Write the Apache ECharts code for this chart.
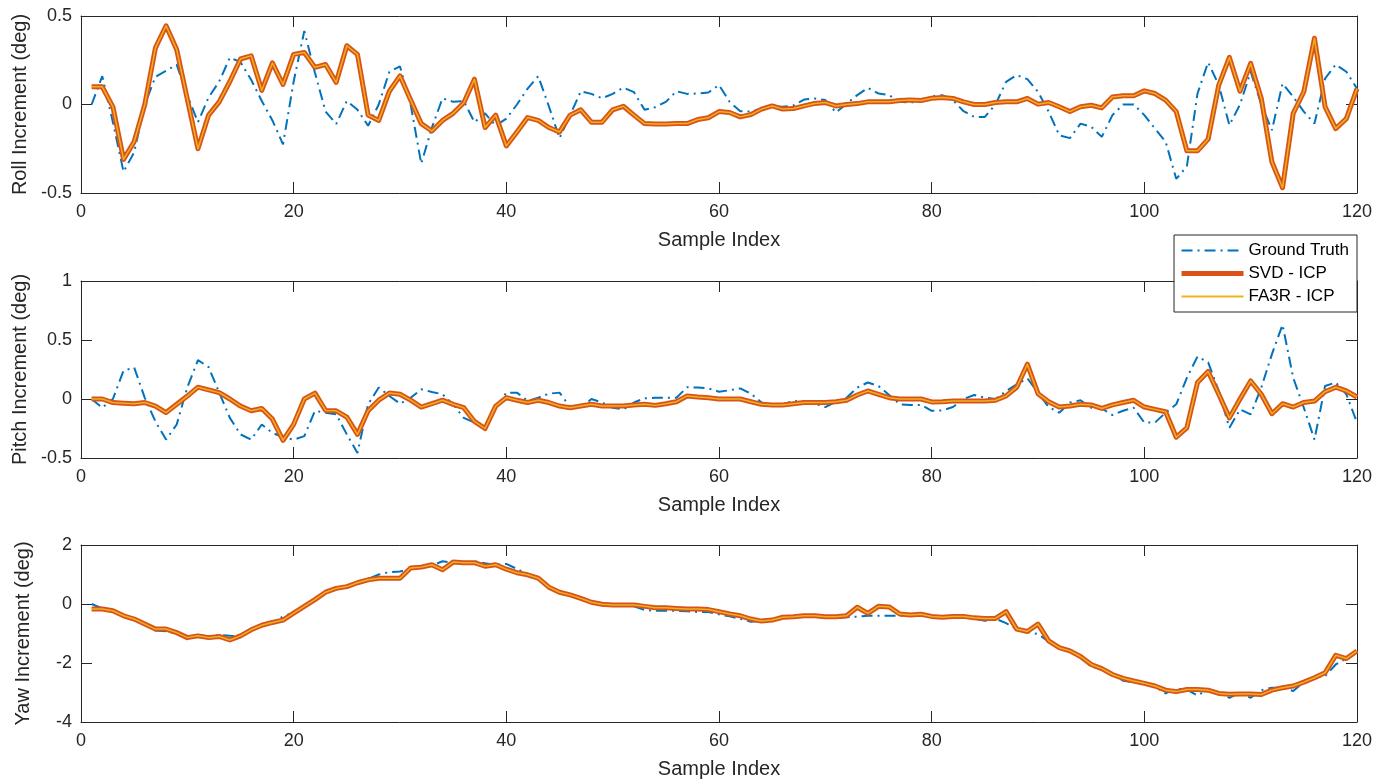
<!DOCTYPE html>
<html>
<head>
<meta charset="utf-8">
<script src="https://cdn.jsdelivr.net/npm/echarts@6/dist/echarts.min.js"></script>
<style>
html,body{margin:0;padding:0;background:#fff;}
#chart{width:1387px;height:780px;}
</style>
</head>
<body>
<div id="chart"></div>
<script>
// ---- Data ----
const sampleIndex = [1,2,3,4,5,6,7,8,9,10,11,12,13,14,15,16,17,18,19,20,21,22,23,24,25,26,27,28,29,30,31,32,33,34,35,36,37,38,39,40,41,42,43,44,45,46,47,48,49,50,51,52,53,54,55,56,57,58,59,60,61,62,63,64,65,66,67,68,69,70,71,72,73,74,75,76,77,78,79,80,81,82,83,84,85,86,87,88,89,90,91,92,93,94,95,96,97,98,99,100,101,102,103,104,105,106,107,108,109,110,111,112,113,114,115,116,117,118,119,120];

const xTicks = [0,20,40,60,80,100,120];
const rollTicks = [-0.5,0,0.5];
const pitchTicks = [-0.5,0,0.5,1];
const yawTicks = [-4,-2,0,2];

const seriesNames = ['Ground Truth','SVD - ICP','FA3R - ICP'];

const rollGT = [0,0.16,-0.1,-0.38,-0.27,0,0.157,0.19,0.225,0.05,-0.1,0.04,0.13,0.265,0.24,0.14,0.02,-0.09,-0.225,0.13,0.415,0.18,-0.04,-0.11,0.02,-0.03,-0.12,0,0.185,0.215,0,-0.335,-0.13,0.035,0.015,0.02,-0.1,-0.05,-0.12,-0.08,
0,0.09,0.16,-0.01,-0.19,-0.06,0.075,0.06,0.035,0.06,0.095,0.07,-0.03,-0.015,0.015,0.075,0.06,0.062,0.068,0.11,0.015,-0.038,-0.04,-0.023,-0.01,-0.013,-0.005,0.028,0.034,0.025,-0.045,0.005,0.053,0.094,0.062,0.053,0.015,0.012,0.015,0.045,
0.053,0.025,-0.038,-0.07,-0.07,0,0.128,0.166,0.143,0.072,-0.04,-0.174,-0.19,-0.108,-0.126,-0.183,-0.06,0,0,-0.06,-0.136,-0.21,-0.42,-0.35,0.062,0.238,0.11,-0.117,0,0.185,0,-0.145,0.119,0.043,-0.04,-0.108,0.147,0.226,0.185,0.09];

const rollSVD = [0.1,0.1,-0.013,-0.31,-0.21,0,0.32,0.445,0.31,0.03,-0.25,-0.06,0.015,0.13,0.257,0.275,0.08,0.235,0.113,0.283,0.294,0.21,0.226,0.125,0.332,0.283,-0.06,-0.09,0.075,0.162,0.025,-0.108,-0.15,-0.09,-0.05,0.01,0.143,-0.13,-0.06,-0.234,
-0.155,-0.074,-0.09,-0.13,-0.155,-0.06,-0.03,-0.1,-0.1,-0.03,-0.01,-0.06,-0.108,-0.11,-0.11,-0.108,-0.108,-0.085,-0.075,-0.04,-0.045,-0.07,-0.057,-0.026,-0.008,-0.026,-0.023,-0.008,0.006,0.011,-0.008,0,0.005,0.015,0.015,0.015,0.023,0.025,0.023,0.035,
0.04,0.034,0.015,0,0,0.011,0.015,0.015,0.034,0.002,0.011,-0.013,-0.04,-0.013,-0.004,-0.019,0.043,0.049,0.049,0.077,0.062,0.025,-0.04,-0.262,-0.262,-0.196,0.11,0.266,0.075,0.232,0.034,-0.325,-0.47,-0.05,0.072,0.374,-0.013,-0.136,-0.08,0.09];

const rollFA3R = [0.1,0.1,-0.013,-0.31,-0.21,0,0.32,0.445,0.31,0.03,-0.25,-0.06,0.015,0.13,0.257,0.275,0.08,0.235,0.113,0.283,0.294,0.21,0.226,0.125,0.332,0.283,-0.06,-0.09,0.075,0.162,0.025,-0.108,-0.15,-0.09,-0.05,0.01,0.143,-0.13,-0.06,-0.234,
-0.155,-0.074,-0.09,-0.13,-0.155,-0.06,-0.03,-0.1,-0.1,-0.03,-0.01,-0.06,-0.108,-0.11,-0.11,-0.108,-0.108,-0.085,-0.075,-0.04,-0.045,-0.07,-0.057,-0.026,-0.008,-0.026,-0.023,-0.008,0.006,0.011,-0.008,0,0.005,0.015,0.015,0.015,0.023,0.025,0.023,0.035,
0.04,0.034,0.015,0,0,0.011,0.015,0.015,0.034,0.002,0.011,-0.013,-0.04,-0.013,-0.004,-0.019,0.043,0.049,0.049,0.077,0.062,0.025,-0.04,-0.262,-0.262,-0.196,0.11,0.266,0.075,0.232,0.034,-0.325,-0.47,-0.05,0.072,0.374,-0.013,-0.136,-0.08,0.09];

const pitchGT = [0,-0.074,0,0.24,0.267,0.01,-0.19,-0.344,-0.216,0.1,0.33,0.27,0.054,-0.16,-0.3,-0.344,-0.216,-0.287,-0.324,-0.344,-0.315,-0.1,-0.116,-0.13,-0.3,-0.457,-0.045,0.097,0.026,-0.04,0.011,0.082,0.06,0.04,-0.045,-0.16,-0.2,-0.24,-0.074,0.054,
0.054,-0.017,0.011,0.045,0.054,-0.068,-0.074,0,-0.03,-0.074,-0.088,-0.03,0.006,0.011,0.011,0.011,0.1,0.097,0.09,0.062,0.074,0.09,0.045,-0.03,-0.06,-0.045,-0.017,-0.023,-0.04,-0.068,-0.023,0.011,0.097,0.14,0.11,0.034,-0.045,-0.05,-0.05,-0.1,
-0.097,-0.068,0,0.034,0.011,0,0.068,0.125,0.176,0.054,-0.068,-0.116,-0.03,-0.011,-0.074,-0.08,-0.136,-0.1,-0.074,-0.2,-0.2,-0.116,-0.045,0.18,0.36,0.31,0.068,-0.244,-0.088,-0.13,0.097,0.38,0.63,0.18,-0.074,-0.344,0.11,0.14,0.04,-0.2];

const pitchSVD = [0,0,-0.03,-0.035,-0.04,-0.03,-0.06,-0.115,-0.045,0.025,0.1,0.077,0.054,0,-0.06,-0.1,-0.08,-0.17,-0.35,-0.215,0,0.05,-0.097,-0.1,-0.153,-0.3,-0.1,-0.01,0.05,0.04,-0.01,-0.068,-0.04,-0.01,-0.045,-0.074,-0.19,-0.25,-0.06,0.012,
-0.011,-0.03,-0.011,-0.03,-0.06,-0.074,-0.06,-0.045,-0.06,-0.06,-0.06,-0.05,-0.045,-0.054,-0.04,-0.023,0.026,0.017,0.011,0,0,0,-0.023,-0.045,-0.05,-0.05,-0.04,-0.03,-0.03,-0.03,-0.023,-0.011,0.034,0.068,0.04,0.011,0,0,0,-0.025,
-0.023,-0.017,-0.017,-0.017,-0.017,-0.011,0.026,0.1,0.295,0.045,-0.023,-0.068,-0.06,-0.045,-0.05,-0.08,-0.05,-0.03,-0.011,-0.068,-0.088,-0.108,-0.324,-0.244,0.14,0.233,0.04,-0.16,0,0.153,0.04,-0.125,-0.04,-0.068,-0.03,-0.017,0.062,0.1,0.068,0.017];

const pitchFA3R = [0,0,-0.03,-0.035,-0.04,-0.03,-0.06,-0.115,-0.045,0.025,0.1,0.077,0.054,0,-0.06,-0.1,-0.08,-0.17,-0.35,-0.215,0,0.05,-0.097,-0.1,-0.153,-0.3,-0.1,-0.01,0.05,0.04,-0.01,-0.068,-0.04,-0.01,-0.045,-0.074,-0.19,-0.25,-0.06,0.012,
-0.011,-0.03,-0.011,-0.03,-0.06,-0.074,-0.06,-0.045,-0.06,-0.06,-0.06,-0.05,-0.045,-0.054,-0.04,-0.023,0.026,0.017,0.011,0,0,0,-0.023,-0.045,-0.05,-0.05,-0.04,-0.03,-0.03,-0.03,-0.023,-0.011,0.034,0.068,0.04,0.011,0,0,0,-0.025,
-0.023,-0.017,-0.017,-0.017,-0.017,-0.011,0.026,0.1,0.295,0.045,-0.023,-0.068,-0.06,-0.045,-0.05,-0.08,-0.05,-0.03,-0.011,-0.068,-0.088,-0.108,-0.324,-0.244,0.14,0.233,0.04,-0.16,0,0.153,0.04,-0.125,-0.04,-0.068,-0.03,-0.017,0.062,0.1,0.068,0.017];

const yawGT = [0,-0.15,-0.23,-0.4,-0.55,-0.7,-0.9,-0.92,-1.0,-1.1,-1.05,-1.1,-1.05,-1.08,-1.1,-0.9,-0.75,-0.65,-0.42,-0.3,-0.1,0.15,0.4,0.55,0.6,0.75,0.85,1.0,1.08,1.1,1.2,1.25,1.3,1.45,1.4,1.38,1.45,1.38,1.33,1.36,
1.19,1.0,0.88,0.6,0.42,0.3,0.18,0.05,-0.02,-0.05,-0.05,-0.08,-0.2,-0.23,-0.23,-0.23,-0.25,-0.27,-0.27,-0.35,-0.42,-0.5,-0.6,-0.58,-0.52,-0.47,-0.45,-0.43,-0.43,-0.45,-0.47,-0.45,-0.43,-0.4,-0.4,-0.4,-0.4,-0.4,-0.38,-0.42,
-0.45,-0.42,-0.43,-0.5,-0.57,-0.5,-0.65,-0.85,-0.95,-1.02,-1.28,-1.48,-1.6,-1.8,-2.12,-2.2,-2.4,-2.6,-2.65,-2.7,-2.8,-3.03,-2.87,-2.9,-3.1,-2.9,-3.0,-3.18,-3.0,-3.18,-2.92,-2.84,-2.84,-2.95,-2.65,-2.5,-2.44,-2.05,-1.85,-1.6];

const yawSVD = [-0.17,-0.17,-0.23,-0.4,-0.51,-0.68,-0.85,-0.85,-0.97,-1.14,-1.08,-1.14,-1.1,-1.22,-1.08,-0.875,-0.72,-0.625,-0.545,-0.31,-0.08,0.15,0.4,0.53,0.59,0.72,0.82,0.875,0.875,0.875,1.22,1.25,1.33,1.16,1.42,1.4,1.4,1.28,1.33,1.18,
1.06,0.99,0.875,0.57,0.4,0.31,0.19,0.06,-0.01,-0.03,-0.03,-0.03,-0.08,-0.125,-0.125,-0.15,-0.17,-0.17,-0.19,-0.26,-0.34,-0.4,-0.51,-0.58,-0.545,-0.45,-0.43,-0.4,-0.4,-0.43,-0.43,-0.4,-0.11,-0.32,-0.08,-0.1,-0.34,-0.375,-0.35,-0.42,
-0.45,-0.42,-0.42,-0.47,-0.49,-0.49,-0.26,-0.85,-0.93,-0.68,-1.25,-1.48,-1.59,-1.78,-2.05,-2.19,-2.39,-2.52,-2.61,-2.69,-2.78,-2.92,-2.97,-2.9,-2.9,-2.92,-3.03,-3.06,-3.05,-3.05,-3.07,-2.92,-2.84,-2.78,-2.65,-2.5,-2.33,-1.74,-1.85,-1.59];

const yawFA3R = [-0.17,-0.17,-0.23,-0.4,-0.51,-0.68,-0.85,-0.85,-0.97,-1.14,-1.08,-1.14,-1.1,-1.22,-1.08,-0.875,-0.72,-0.625,-0.545,-0.31,-0.08,0.15,0.4,0.53,0.59,0.72,0.82,0.875,0.875,0.875,1.22,1.25,1.33,1.16,1.42,1.4,1.4,1.28,1.33,1.18,
1.06,0.99,0.875,0.57,0.4,0.31,0.19,0.06,-0.01,-0.03,-0.03,-0.03,-0.08,-0.125,-0.125,-0.15,-0.17,-0.17,-0.19,-0.26,-0.34,-0.4,-0.51,-0.58,-0.545,-0.45,-0.43,-0.4,-0.4,-0.43,-0.43,-0.4,-0.11,-0.32,-0.08,-0.1,-0.34,-0.375,-0.35,-0.42,
-0.45,-0.42,-0.42,-0.47,-0.49,-0.49,-0.26,-0.85,-0.93,-0.68,-1.25,-1.48,-1.59,-1.78,-2.05,-2.19,-2.39,-2.52,-2.61,-2.69,-2.78,-2.92,-2.97,-2.9,-2.9,-2.92,-3.03,-3.06,-3.05,-3.05,-3.07,-2.92,-2.84,-2.78,-2.65,-2.5,-2.33,-1.74,-1.85,-1.59];

// ---- Chart ----
const FONT = "'Liberation Sans', Arial, Helvetica, sans-serif";
const INK = '#262626';
const C_GT = '#0072BD', C_SVD = '#D95319', C_FA3R = '#EDB120';

const panels = [
  {name:'Roll Increment (deg)', ticks: rollTicks, gt: rollGT, svd: rollSVD, fa: rollFA3R, top: 16},
  {name:'Pitch Increment (deg)', ticks: pitchTicks, gt: pitchGT, svd: pitchSVD, fa: pitchFA3R, top: 281},
  {name:'Yaw Increment (deg)', ticks: yawTicks, gt: yawGT, svd: yawSVD, fa: yawFA3R, top: 545}
];

const pairs = arr => sampleIndex.map((x, i) => [x, arr[i]]);
const tickStyle = {show:true, inside:true, length:11, lineStyle:{color:INK, width:1}};
const lineStyleAxis = {show:true, onZero:false, lineStyle:{color:INK, width:1}};

const grid = [], xAxis = [], yAxis = [], series = [];
panels.forEach((p, k) => {
  grid.push({left:81, right:30, top:p.top, height:177, containLabel:false});
  const xmin = xTicks[0], xmax = xTicks[xTicks.length-1], xint = xTicks[1]-xTicks[0];
  const ymin = p.ticks[0], ymax = p.ticks[p.ticks.length-1], yint = p.ticks[1]-p.ticks[0];
  xAxis.push({
    type:'value', gridIndex:k, position:'bottom', min:xmin, max:xmax, interval:xint,
    name:'Sample Index', nameLocation:'middle', nameGap:37,
    nameTextStyle:{fontFamily:FONT, fontSize:20, color:INK},
    axisLine:lineStyleAxis, axisTick:tickStyle, splitLine:{show:false},
    axisLabel:{fontFamily:FONT, fontSize:18, color:INK, margin:10}
  });
  xAxis.push({
    type:'value', gridIndex:k, position:'top', min:xmin, max:xmax, interval:xint,
    axisLine:lineStyleAxis, axisTick:tickStyle, splitLine:{show:false}, axisLabel:{show:false}
  });
  yAxis.push({
    type:'value', gridIndex:k, position:'left', min:ymin, max:ymax, interval:yint,
    name:p.name, nameLocation:'middle', nameGap:48,
    nameTextStyle:{fontFamily:FONT, fontSize:20, color:INK},
    axisLine:lineStyleAxis, axisTick:tickStyle, splitLine:{show:false},
    axisLabel:{fontFamily:FONT, fontSize:18, color:INK, margin:9}
  });
  yAxis.push({
    type:'value', gridIndex:k, position:'right', min:ymin, max:ymax, interval:yint,
    axisLine:lineStyleAxis, axisTick:tickStyle, splitLine:{show:false}, axisLabel:{show:false}
  });
  const xi = 2*k, yi = 2*k;
  series.push({
    name:seriesNames[0], type:'line', xAxisIndex:xi, yAxisIndex:yi, data:pairs(p.gt),
    symbol:'none', silent:true, z:2,
    lineStyle:{color:C_GT, width:2, type:[11,5,2,5]}, itemStyle:{color:C_GT}
  });
  series.push({
    name:seriesNames[1], type:'line', xAxisIndex:xi, yAxisIndex:yi, data:pairs(p.svd),
    symbol:'none', silent:true, z:3,
    lineStyle:{color:C_SVD, width:5, join:'round'}, itemStyle:{color:C_SVD}
  });
  series.push({
    name:seriesNames[2], type:'line', xAxisIndex:xi, yAxisIndex:yi, data:pairs(p.fa),
    symbol:'none', silent:true, z:4,
    lineStyle:{color:C_FA3R, width:1.5, join:'round'}, itemStyle:{color:C_FA3R}
  });
});

const hiddenSymbol = {color:'rgba(0,0,0,0)', borderColor:'rgba(0,0,0,0)', borderWidth:0, opacity:0};

const chart = echarts.init(document.getElementById('chart'), null, {renderer:'canvas'});
chart.setOption({
  animation:false,
  backgroundColor:'#ffffff',
  grid, xAxis, yAxis, series,
  legend:{
    orient:'vertical', right:30, top:235,
    backgroundColor:'#ffffff', borderColor:INK, borderWidth:1,
    padding:[6,8,6,5], itemGap:4, itemWidth:62, itemHeight:14,
    selectedMode:false,
    textStyle:{fontFamily:FONT, fontSize:17, color:'#000', lineHeight:19},
    data:[
      {name:seriesNames[0], itemStyle:hiddenSymbol, lineStyle:{width:2, type:[11,5,2,5], color:C_GT}},
      {name:seriesNames[1], itemStyle:hiddenSymbol, lineStyle:{width:5, color:C_SVD}},
      {name:seriesNames[2], itemStyle:hiddenSymbol, lineStyle:{width:2, color:C_FA3R}}
    ]
  }
});
</script>
</body>
</html>
